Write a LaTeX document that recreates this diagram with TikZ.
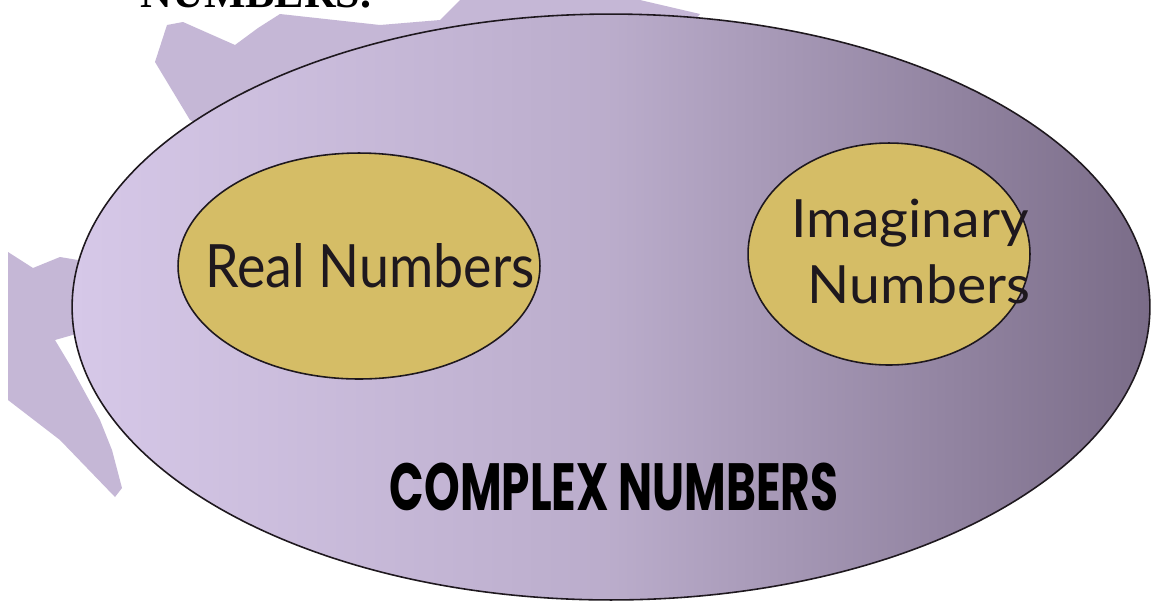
\documentclass[tikz,border=0pt]{standalone}
\usepackage{fontspec}
\usepackage{tikz}
\usetikzlibrary{shapes.geometric,positioning}
\newfontfamily\handfont{Lato}
\newfontfamily\heavyfont{Poppins}
\newfontfamily\titlefont{Liberation Serif}
\definecolor{smudge}{RGB}{197,183,214}
\definecolor{lilaclight}{RGB}{214,200,232}
\definecolor{lilacdark}{RGB}{122,108,136}
\definecolor{mustard}{RGB}{213,189,102}
\definecolor{inkdark}{RGB}{30,24,30}
\newcommand{\squeeze}[2]{\scalebox{#1}[1]{#2}}

\begin{document}
\begin{tikzpicture}[x=0.02cm, y=-0.02cm,
    setfill/.style={ellipse, draw=inkdark, line width=0.9pt, inner sep=0pt},
    subset/.style={setfill, fill=mustard},
    subsetlabel/.style={text=inkdark, anchor=base, inner sep=0pt}]
  % ---- canvas ----
  \clip (0,0) rectangle (1151,603);
  \useasboundingbox (0,0) rectangle (1151,603);
  \fill[white] (0,0) rectangle (1151,603);

  % heading cut off at the top edge
  \node[font=\titlefont\bfseries\fontsize{25}{30}\selectfont, anchor=base, inner sep=0pt]
    (heading) at (256,7) {NUMBERS.};

  % ---- background smudges (partly under the big set) ----
  \fill[smudge] (155,62) -- (167,25) -- (183,22) -- (235,45) -- (258,28)
    -- (280,14) -- (380,25) -- (440,20) -- (460,0) -- (640,0) -- (700,14)
    -- (600,150) -- (250,150) -- (190,120) -- cycle;
  \fill[smudge] (8,252) -- (33,268) -- (60,257) -- (90,262) -- (200,300)
    -- (90,330) -- (55,340) -- (70,365) -- (100,420) -- (112,450)
    -- (122,488) -- (115,497) -- (60,440) -- (8,400) -- cycle;

  % ---- complex numbers (outer set) ----
  \node[setfill, minimum width=21.56cm, minimum height=11.72cm,
    left color=lilaclight, right color=lilacdark, middle color=lilaclight!70!lilacdark]
    (complex) at (611,307) {};
  \node[font=\heavyfont\bfseries\fontsize{38}{40}\selectfont, text=black]
    (complexlabel) at (614,487) {\squeeze{0.68}{COMPLEX NUMBERS}};

  % ---- subsets ----
  \node[subset, minimum width=7.24cm, minimum height=4.52cm] (real) at (359,266) {};
  \node[subsetlabel, font=\handfont\fontsize{34}{40}\selectfont]
    (reallabel) at (370,287) {\squeeze{0.9}{Real Numbers}};
  \node[subset, minimum width=5.64cm, minimum height=4.44cm] (imag) at (889,254) {};
  \node[subsetlabel, font=\handfont\fontsize{30}{36}\selectfont]
    (imaglabel) at (910,237) {\squeeze{1.05}{Imaginary}};
  \node[subsetlabel, font=\handfont\fontsize{30}{36}\selectfont]
    (imaglabelb) at (919,303) {\squeeze{1.05}{Numbers}};
\end{tikzpicture}
\end{document}
